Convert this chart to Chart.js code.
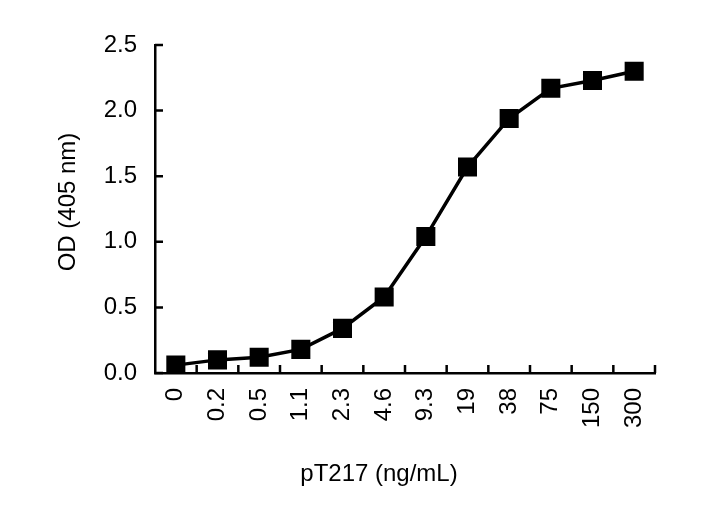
<!DOCTYPE html>
<html>
<head>
<meta charset="utf-8">
<script src="https://cdn.jsdelivr.net/npm/chart.js@4"></script>
<style>
  html, body { margin: 0; padding: 0; background: #fff; }
  #wrap { width: 709px; height: 508px; }
</style>
</head>
<body>
<div id="wrap"><canvas id="odChart"></canvas></div>
<script>
const concentrations = ['0', '0.2', '0.5', '1.1', '2.3', '4.6', '9.3', '19', '38', '75', '150', '300'];
const odValues = [0.06, 0.10, 0.12, 0.18, 0.34, 0.58, 1.04, 1.57, 1.94, 2.17, 2.23, 2.30];
const yTicks = [0, 0.5, 1.0, 1.5, 2.0, 2.5];
const xTitle = 'pT217 (ng/mL)';
const yTitle = 'OD (405 nm)';

const FONT = "'Liberation Sans', Arial, sans-serif";

// small tick marks pointing into the plot, like the original figure
const innerTicks = {
    id: 'innerTicks',
    afterDatasetsDraw(chart) {
        const { ctx, scales: { x, y } } = chart;
        ctx.save();
        ctx.strokeStyle = '#000';
        ctx.lineWidth = 2.5;
        ctx.beginPath();
        yTicks.forEach(v => {
            const py = y.getPixelForValue(v);
            ctx.moveTo(x.left, py);
            ctx.lineTo(x.left + 8, py);
        });
        const step = x.getPixelForValue(1) - x.getPixelForValue(0);
        concentrations.forEach((c, i) => {
            const px = x.getPixelForValue(i) + step / 2;
            ctx.moveTo(px, y.bottom);
            ctx.lineTo(px, y.bottom - 8);
        });
        ctx.stroke();
        ctx.restore();
    }
};

// axis titles sit a bit off-centre in the original, so place them by hand
const axisTitles = {
    id: 'axisTitles',
    afterDraw(chart) {
        const { ctx, chartArea: a } = chart;
        ctx.save();
        ctx.fillStyle = '#000';
        ctx.textAlign = 'center';
        ctx.textBaseline = 'middle';
        ctx.font = '24px ' + FONT;
        ctx.fillText(xTitle, a.left + 224, 474);
        ctx.translate(68, a.top + 157);
        ctx.rotate(-Math.PI / 2);
        ctx.font = '24px ' + FONT;
        ctx.fillText(yTitle, 0, 0);
        ctx.restore();
    }
};

new Chart(document.getElementById('odChart'), {
    type: 'line',
    data: {
        labels: concentrations,
        datasets: [{
            data: odValues,
            borderColor: '#000',
            backgroundColor: '#000',
            borderWidth: 3.5,
            pointStyle: 'rect',
            pointRadius: 11,
            pointHoverRadius: 11,
            tension: 0
        }]
    },
    options: {
        responsive: true,
        maintainAspectRatio: false,
        animation: false,
        layout: { padding: { top: 45, right: 54, left: 0, bottom: 0 } },
        plugins: {
            legend: { display: false },
            tooltip: { enabled: false }
        },
        scales: {
            x: {
                offset: true,
                grid: { display: false, drawTicks: false },
                border: { display: true, color: '#000', width: 2.5 },
                ticks: {
                    color: '#000',
                    font: { family: FONT, size: 24 },
                    minRotation: 90,
                    maxRotation: 90,
                    autoSkip: false,
                    padding: 15
                },
                afterFit: s => { s.height = 135; }
            },
            y: {
                min: 0,
                max: 2.5,
                grid: { display: false, drawTicks: false },
                border: { display: true, color: '#000', width: 2.5 },
                afterBuildTicks: s => { s.ticks = yTicks.map(v => ({ value: v })); },
                ticks: {
                    color: '#000',
                    font: { family: FONT, size: 24 },
                    padding: 18,
                    callback: v => v.toFixed(1)
                },
                afterFit: s => { s.width = 155; }
            }
        }
    },
    plugins: [innerTicks, axisTitles]
});
</script>
</body>
</html>
